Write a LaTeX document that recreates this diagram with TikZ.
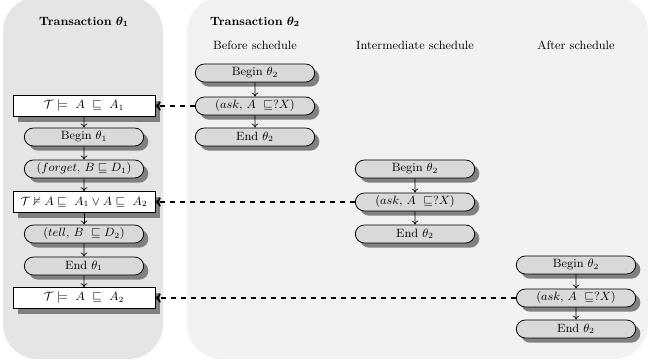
\documentclass[tikz,border=0pt]{standalone}
\usepackage{amssymb}
\usepackage{bm}
\usetikzlibrary{shapes.misc,shadows,arrows.meta}
\begin{document}
\begin{tikzpicture}[x=0.75pt,y=0.75pt,
  op/.style={rounded rectangle, draw=black, line width=0.6pt, fill=gray!30,
    minimum width=91.5pt, minimum height=13.5pt, inner sep=1pt, font=\small,
    drop shadow={shadow xshift=3.5pt, shadow yshift=-3.5pt, fill=gray, opacity=1}},
  check/.style={rectangle, draw=black, line width=0.6pt, fill=white,
    minimum width=106.5pt, minimum height=15.5pt, inner sep=0.5pt, font=\small,
    drop shadow={shadow xshift=4pt, shadow yshift=-4pt, fill=gray, opacity=1}},
  flow/.style={-{To[length=3pt,width=5pt]}, line width=0.5pt},
  link/.style={-{To[length=4pt,width=7pt]}, line width=1.3pt, dash pattern=on 4pt off 3.5pt},
  head/.style={font=\small}]
\useasboundingbox (0,0) rectangle (648,363);
\fill[gray!20, rounded corners=26pt] (3,4) rectangle (163,366);
\fill[gray!10, rounded corners=26pt] (187,4) rectangle (648,366);

\node[head] (h1) at (84,341) {\textbf{Transaction} $\bm{\theta_1}$};
\node[head] (h2) at (255,341) {\textbf{Transaction} $\bm{\theta_2}$};
\node[head] (hb) at (255,318) {Before schedule};
\node[head] (hi) at (415,318) {Intermediate schedule};
\node[head] (ha) at (576,318) {After schedule};

\node[check] (r1) at (84,257) {$\mathcal{T} \models\ A\ \sqsubseteq\ A_1$};
\node[op] (b1) at (84,226) {Begin $\theta_1$};
\node[op] (f1) at (84,194) {$(forget,\, B \sqsubseteq D_1)$};
\node[check] (r2) at (84,161) {$\mathcal{T} \nvDash A \sqsubseteq\ A_1 \vee A \sqsubseteq\ A_2$};
\node[op] (t1) at (84,129) {$(tell,\, B\ \sqsubseteq D_2)$};
\node[op] (e1) at (84,97) {End $\theta_1$};
\node[check] (r3) at (84,65) {$\mathcal{T} \models\ A\ \sqsubseteq\ A_2$};

\node[op] (bb) at (255,290) {Begin $\theta_2$};
\node[op] (ab) at (255,257) {$(ask,\, A\ \sqsubseteq ?X)$};
\node[op] (eb) at (255,226) {End $\theta_2$};

\node[op] (bi) at (415,194) {Begin $\theta_2$};
\node[op] (ai) at (415,161) {$(ask,\, A\ \sqsubseteq ?X)$};
\node[op] (ei) at (415,129) {End $\theta_2$};

\node[op] (ba) at (576,98) {Begin $\theta_2$};
\node[op] (aa) at (576,65) {$(ask,\, A\ \sqsubseteq ?X)$};
\node[op] (ea) at (576,34) {End $\theta_2$};

\draw[flow] (r1) -- (b1);
\draw[flow] (b1) -- (f1);
\draw[flow] (f1) -- (r2);
\draw[flow] (r2) -- (t1);
\draw[flow] (t1) -- (e1);
\draw[flow] (e1) -- (r3);
\draw[flow] (bb) -- (ab);
\draw[flow] (ab) -- (eb);
\draw[flow] (bi) -- (ai);
\draw[flow] (ai) -- (ei);
\draw[flow] (ba) -- (aa);
\draw[flow] (aa) -- (ea);

\draw[link] (ab.west) -- (r1.east);
\draw[link] (ai.west) -- (r2.east);
\draw[link] (aa.west) -- (r3.east);
\end{tikzpicture}
\end{document}
